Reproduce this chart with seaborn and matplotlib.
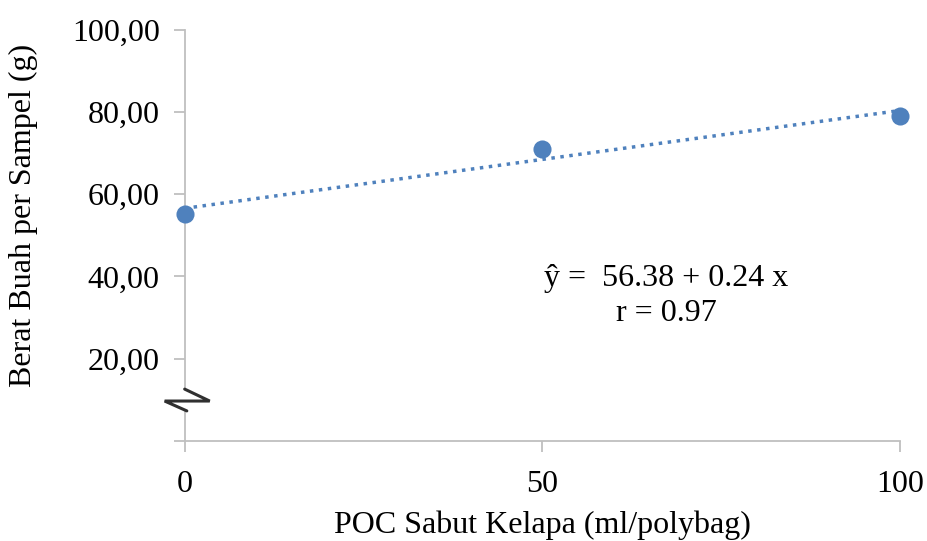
import matplotlib
matplotlib.use("Agg")
import matplotlib.pyplot as plt
import seaborn as sns
import pandas as pd
from matplotlib.patches import Rectangle

dose = [0, 50, 100]
weight = [55.3, 71.0, 79.1]
y_ticks = [0, 20, 40, 60, 80, 100]
y_tick_labels = ["", "20,00", "40,00", "60,00", "80,00", "100,00"]
x_ticks = [0, 50, 100]
x_tick_labels = ["0", "50", "100"]

df = pd.DataFrame({"x": dose, "y": weight})

sns.set_style("white")
plt.rcParams["font.family"] = ["Liberation Serif", "DejaVu Serif"]
plt.rcParams["text.color"] = "black"
plt.rcParams["axes.labelcolor"] = "black"

fig = plt.figure(figsize=(9.28, 5.41), dpi=100)
ax = fig.add_axes([0.199, 0.185, 0.771, 0.76])

blue = "#4f81bd"
sns.regplot(data=df, x="x", y="y", ax=ax, scatter=False, ci=None, truncate=True,
            line_kws=dict(color=blue, lw=2.5, linestyle=(0, (1, 1.6))))
sns.scatterplot(data=df, x="x", y="y", ax=ax, s=170, color=blue, edgecolor=blue,
                linewidth=0, zorder=5, clip_on=False)

ax.set_xlim(0, 100)
ax.set_ylim(0, 100)
ax.set_yticks(y_ticks)
ax.set_yticklabels(y_tick_labels)
ax.set_xticks(x_ticks)
ax.set_xticklabels(x_tick_labels)

for s in ["top", "right"]:
    ax.spines[s].set_visible(False)
for s in ["left", "bottom"]:
    ax.spines[s].set_color("#bfbfbf")
    ax.spines[s].set_linewidth(1.3)
ax.tick_params(axis="both", which="major", length=8, width=1.3, color="#bfbfbf",
               labelcolor="black", labelsize=23, pad=13, direction="out",
               bottom=True, left=True)
ax.tick_params(axis="y", pad=10)

ax.set_xlabel("POC Sabut Kelapa (ml/polybag)", fontsize=23, labelpad=8)
ax.set_ylabel("Berat Buah per Sampel (g)", fontsize=23)
ax.yaxis.set_label_coords(-0.205, 0.548)

# axis break symbol
ax.add_patch(Rectangle((-3.0, 7.3), 6.5, 5.3, facecolor="white", edgecolor="none",
                       clip_on=False, zorder=6))
ax.plot([0.0, 3.5, -2.8, 0.3], [12.6, 9.7, 9.7, 7.3], color="#303030", lw=2.2,
        clip_on=False, zorder=7, solid_joinstyle="miter")

ax.text(67.3, 35.2, "ŷ =  56.38 + 0.24 x\nr = 0.97", fontsize=23, ha="center",
        va="center", linespacing=1.3)

fig.savefig("out.png", dpi=100)
